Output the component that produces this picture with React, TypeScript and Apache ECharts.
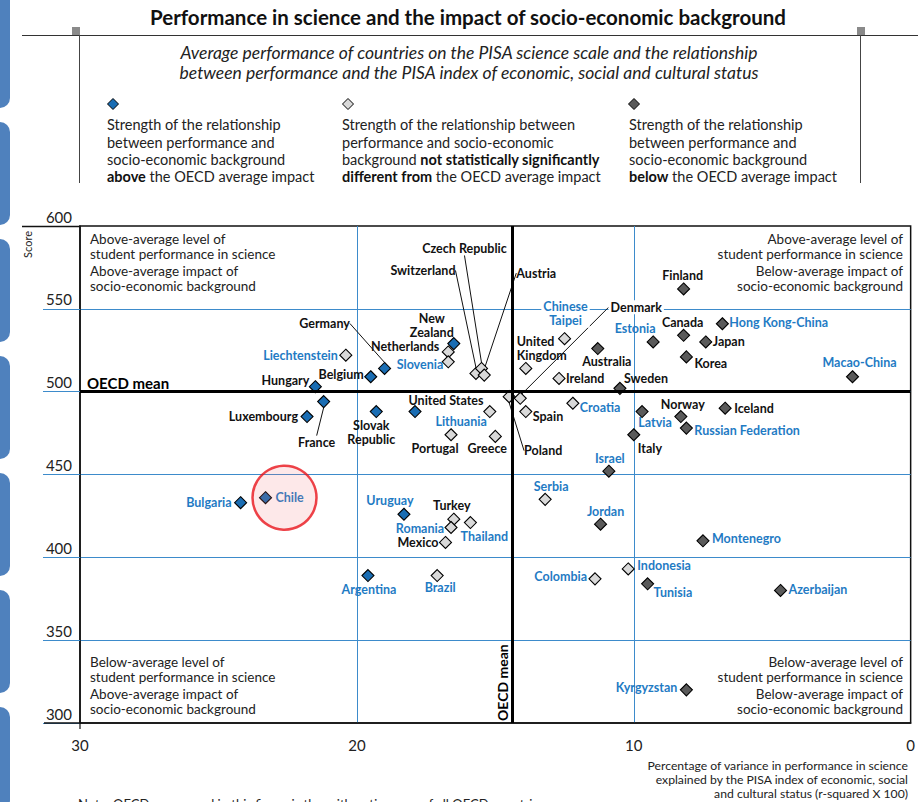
import React, { useEffect, useRef } from "react";
import * as echarts from "echarts";

// ---------- DATA ----------
const countries = [
  "Liechtenstein", "Germany", "Belgium", "Hungary", "Netherlands", "New Zealand", "Slovenia",
  "Switzerland", "Czech Republic", "Austria", "Chinese Taipei", "United Kingdom", "Australia",
  "Ireland", "Sweden", "Estonia", "Canada", "Japan", "Hong Kong-China", "Korea", "Macao-China",
  "Finland", "Denmark", "Poland", "Spain", "Croatia", "United States", "Lithuania", "Portugal",
  "Greece", "Slovak Republic", "Luxembourg", "France", "Bulgaria", "Chile", "Uruguay", "Turkey",
  "Romania", "Thailand", "Mexico", "Argentina", "Brazil", "Serbia", "Jordan", "Colombia",
  "Indonesia", "Tunisia", "Azerbaijan", "Montenegro", "Israel", "Italy", "Latvia", "Norway",
  "Russian Federation", "Iceland", "Kyrgyzstan",
];
// percentage of variance explained (r-squared x 100)
const r2 = [
  20.4, 19.0, 19.5, 21.5, 16.7, 16.5, 16.7,
  15.7, 15.5, 15.4, 12.5, 13.9, 11.3,
  12.7, 10.5, 9.3, 8.2, 7.4, 6.8, 8.1, 2.1,
  8.2, 14.1, 14.5, 13.9, 12.2, 17.9, 15.2, 16.6,
  15.0, 19.3, 21.8, 21.2, 24.2, 23.3, 18.3, 16.5,
  16.6, 15.9, 16.8, 19.6, 17.1, 13.2, 11.2, 11.4,
  10.2, 9.5, 4.7, 7.5, 10.9, 10.0, 9.7, 8.3,
  8.1, 6.7, 8.1,
];
// mean science score
const score = [
  522, 514, 509, 503, 524, 529, 518,
  511, 514, 510, 532, 514, 526,
  508, 502, 530, 534, 530, 541, 521, 509,
  562, 496, 497, 488, 493, 488, 488, 474,
  473, 488, 485, 494, 433, 436, 426, 423,
  418, 421, 409, 389, 389, 435, 420, 387,
  393, 384, 380, 410, 452, 474, 488, 485,
  478, 490, 320,
];
// 0 = above OECD average impact, 1 = not significantly different, 2 = below
const impact = [
  1, 0, 0, 0, 1, 0, 1,
  1, 1, 1, 1, 1, 2,
  1, 2, 2, 2, 2, 2, 2, 2,
  2, 1, 1, 1, 1, 0, 1, 1,
  1, 0, 0, 0, 0, 0, 0, 1,
  1, 1, 1, 0, 1, 1, 2, 1,
  1, 2, 2, 2, 2, 2, 2, 2,
  2, 2, 2,
];
// partner (non-OECD) countries get blue labels
const partners = [
  "Liechtenstein", "Slovenia", "Chinese Taipei", "Estonia", "Hong Kong-China", "Macao-China",
  "Croatia", "Lithuania", "Bulgaria", "Chile", "Uruguay", "Romania", "Thailand", "Argentina",
  "Brazil", "Serbia", "Jordan", "Colombia", "Indonesia", "Tunisia", "Azerbaijan", "Montenegro",
  "Israel", "Latvia", "Russian Federation", "Kyrgyzstan",
];
const OECD_MEAN_SCORE = 500;
const OECD_MEAN_R2 = 14.4;
const highlighted = "Chile";
const xTicks = { min: 0, max: 30, interval: 10 };
const yTicks = { min: 300, max: 600, interval: 50 };

// ---------- STYLE ----------
const FONT = "Lato, 'Open Sans', sans-serif";
const GRID_BLUE = "#3d8bcb";
const LABEL_BLUE = "#1f7bc4";
const CAT_COLORS = ["#1a6db3", "#d9d9d9", "#5a5a5a"];
const CAT_NAMES = [
  "Above the OECD average impact",
  "Not statistically significantly different from the OECD average impact",
  "Below the OECD average impact",
];
const DISPLAY: Record<string, string> = {
  "New Zealand": "New\nZealand",
  "Slovak Republic": "Slovak\nRepublic",
  "Chinese Taipei": "Chinese\nTaipei",
  "United Kingdom": "United\nKingdom",
};
const LEADERS = ["Germany", "Switzerland", "Czech Republic", "Austria", "Denmark", "Poland", "France"];
const WHITE_BG = ["Chinese Taipei", "Denmark"];
// label anchor relative to marker centre: [dx, dy, anchor side]
const LABELS: Record<string, [number, number, string]> = {
  Liechtenstein: [-8, 0, "r"],
  Germany: [-60, -45, "c"],
  Belgium: [-7, -2, "r"],
  Hungary: [-6, -6, "r"],
  Netherlands: [-9, -5, "r"],
  "New Zealand": [-22, -18, "c"],
  Slovenia: [-5, 3, "r"],
  Switzerland: [-53, -103, "c"],
  "Czech Republic": [-17, -120, "c"],
  Austria: [52, -102, "c"],
  "Chinese Taipei": [1, -25, "c"],
  Denmark: [116, -91, "c"],
  "United Kingdom": [-9, -20, "l"],
  Australia: [9, 13, "c"],
  Ireland: [7, 0, "l"],
  Sweden: [4, -10, "l"],
  Estonia: [-18, -13, "c"],
  Canada: [-1, -13, "c"],
  Japan: [7, 0, "l"],
  "Hong Kong-China": [7, -1, "l"],
  Korea: [8, 7, "l"],
  "Macao-China": [7, -14, "c"],
  Finland: [-1, -13, "c"],
  Poland: [34, 54, "c"],
  Spain: [7, 5, "l"],
  Croatia: [7, 4, "l"],
  "United States": [31, -11, "c"],
  Lithuania: [-3, 10, "r"],
  Portugal: [-16, 14, "c"],
  Greece: [-8, 12, "c"],
  "Slovak Republic": [-5, 21, "c"],
  Luxembourg: [-9, 0, "r"],
  France: [-7, 41, "c"],
  Bulgaria: [-9, 0, "r"],
  Chile: [10, 0, "l"],
  Uruguay: [-14, -14, "c"],
  Turkey: [-2, -14, "c"],
  Romania: [-7, 1, "r"],
  Thailand: [14, 14, "c"],
  Mexico: [-7, 0, "r"],
  Argentina: [1, 14, "c"],
  Brazil: [3, 12, "c"],
  Serbia: [6, -13, "c"],
  Jordan: [5, -13, "c"],
  Colombia: [-8, -2, "r"],
  Indonesia: [9, -3, "l"],
  Tunisia: [6, 9, "l"],
  Azerbaijan: [8, -1, "l"],
  Montenegro: [9, -2, "l"],
  Israel: [1, -13, "c"],
  Italy: [4, 14, "l"],
  Latvia: [13, 11, "c"],
  Norway: [2, -12, "c"],
  "Russian Federation": [8, 2, "l"],
  Iceland: [9, 0, "l"],
  Kyrgyzstan: [-9, -2, "r"],
};

const makeLayout = (names: string[]) => (p: any) => {
  const L = LABELS[names[p.dataIndex]];
  if (!L || !p.rect || !p.labelRect) return {};
  const cx = p.rect.x + p.rect.width / 2;
  const cy = p.rect.y + p.rect.height / 2;
  const lr = p.labelRect;
  const tx = cx + L[0];
  const ty = cy + L[1];
  const cur = L[2] === "l" ? lr.x : L[2] === "r" ? lr.x + lr.width : lr.x + lr.width / 2;
  return { dx: tx - cur, dy: ty - (lr.y + lr.height / 2) };
};

function buildOption() {
  const series: any[] = [];
  series.push({
    type: "scatter",
    name: "OECD mean",
    data: [],
    silent: true,
    z: 2,
    markLine: {
      silent: true,
      symbol: ["none", "none"],
      label: { show: false },
      emphasis: { disabled: true },
      lineStyle: { color: "#000", width: 3, type: "solid" },
      data: [{ yAxis: OECD_MEAN_SCORE }, { xAxis: OECD_MEAN_R2 }],
    },
  });
  [0, 1, 2].forEach((cat) => {
    const idx = countries.map((_, i) => i).filter((i) => impact[i] === cat);
    const names = idx.map((i) => countries[i]);
    series.push({
      type: "scatter",
      name: CAT_NAMES[cat],
      z: 4,
      symbol: "diamond",
      symbolSize: 12,
      itemStyle: { color: CAT_COLORS[cat], borderColor: "#000", borderWidth: 1.1, opacity: 1 },
      emphasis: { disabled: true },
      label: {
        show: true,
        position: "inside",
        formatter: (p: any) => DISPLAY[p.name] || p.name,
        fontFamily: FONT,
        fontWeight: "bold",
        fontSize: 12.5,
        lineHeight: 14,
        textBorderWidth: 0,
      },
      labelLine: { show: false, lineStyle: { color: "#111", width: 1 } },
      labelLayout: makeLayout(names),
      data: idx.map((i) => {
        const n = countries[i];
        const item: any = {
          name: n,
          value: [r2[i], score[i]],
          label: {
            color: partners.includes(n) ? LABEL_BLUE : "#111",
          },
        };
        if (n === "United Kingdom") item.label.align = "left";
        if (WHITE_BG.includes(n)) {
          item.label.backgroundColor = "#fff";
          item.label.padding = [0, 2];
        }
        if (LEADERS.includes(n)) item.labelLine = { show: true, lineStyle: { color: "#111", width: 1 } };
        return item;
      }),
    });
  });
  const ci = countries.indexOf(highlighted);
  series.push({
    type: "scatter",
    name: "highlight",
    silent: true,
    z: 6,
    symbol: "circle",
    symbolSize: 64,
    symbolOffset: [19, 0],
    itemStyle: { color: "rgba(245,110,120,0.2)", borderColor: "#e8141c", borderWidth: 2.5 },
    label: { show: false },
    data: [[r2[ci], score[ci]]],
  });

  const txt = (x: number, y: number, text: string, extra: any = {}) => ({
    type: "text",
    x,
    y,
    z: 20,
    style: {
      text,
      fontFamily: FONT,
      fontSize: 13.5,
      fill: "#222",
      align: "left",
      verticalAlign: "top",
      lineHeight: 14.5,
      ...extra,
    },
  });
  const line = (x1: number, y1: number, x2: number, y2: number, stroke = "#000", lw = 1.5) => ({
    type: "line",
    z: 20,
    shape: { x1, y1, x2, y2 },
    style: { stroke, lineWidth: lw },
  });
  const diamond = (cx: number, cy: number, fill: string) => ({
    type: "polygon",
    z: 20,
    shape: { points: [[cx, cy - 5.5], [cx + 5.5, cy], [cx, cy + 5.5], [cx - 5.5, cy]] },
    style: { fill, stroke: "#000", lineWidth: 1 },
  });
  const tabs = [0, 1, 2, 3, 4, 5, 6].map((i) => ({
    type: "rect",
    z: 20,
    shape: { x: -12, y: i === 0 ? -12 : i * 117 + 5, width: 22, height: i === 0 ? 120 : 103, r: 10 },
    style: { fill: "#4f81bd" },
  }));
  const legendStyle = {
    fontSize: 14.5,
    lineHeight: 17.4,
    fill: "#222",
    rich: { b: { fontFamily: FONT, fontSize: 14.5, fontWeight: "bold", lineHeight: 17.4, fill: "#111" } },
  };

  const graphic: any[] = [
    ...tabs,
    txt(468, 17, "Performance in science and the impact of socio-economic background", {
      fontSize: 20.5,
      fontWeight: "bold",
      align: "center",
      verticalAlign: "middle",
      fill: "#111",
      lineHeight: 22,
    }),
    line(22, 35.5, 918, 35.5, "#333", 1.2),
    { type: "rect", z: 20, shape: { x: 72, y: 27, width: 8, height: 8 }, style: { fill: "#8a8a8a" } },
    { type: "rect", z: 20, shape: { x: 857, y: 27, width: 8, height: 8 }, style: { fill: "#8a8a8a" } },
    line(79.5, 35, 79.5, 183, "#444", 1),
    line(860.5, 35, 860.5, 183, "#444", 1),
    txt(469, 52, "Average performance of countries on the PISA science scale and the relationship", {
      fontSize: 17.5,
      lineHeight: 19,
      fontStyle: "italic",
      align: "center",
      verticalAlign: "middle",
    }),
    txt(469, 72, "between performance and the PISA index of economic, social and cultural status", {
      fontSize: 17.5,
      lineHeight: 19,
      fontStyle: "italic",
      align: "center",
      verticalAlign: "middle",
    }),
    diamond(113, 104, CAT_COLORS[0]),
    diamond(348, 104, CAT_COLORS[1]),
    diamond(634, 104, CAT_COLORS[2]),
    txt(107, 116, "Strength of the relationship\nbetween performance and\nsocio-economic background\n{b|above} the OECD average impact", legendStyle),
    txt(342, 116, "Strength of the relationship between\nperformance and socio-economic\nbackground {b|not statistically significantly}\n{b|different from} the OECD average impact", legendStyle),
    txt(629, 116, "Strength of the relationship\nbetween performance and\nsocio-economic background\n{b|below} the OECD average impact", legendStyle),
    // quadrant notes
    txt(90, 232, "Above-average level of\nstudent performance in science"),
    txt(90, 264, "Above-average impact of\nsocio-economic background"),
    txt(903, 232, "Above-average level of\nstudent performance in science", { align: "right" }),
    txt(903, 264, "Below-average impact of\nsocio-economic background", { align: "right" }),
    txt(90, 655, "Below-average level of\nstudent performance in science"),
    txt(90, 687, "Above-average impact of\nsocio-economic background"),
    txt(903, 655, "Below-average level of\nstudent performance in science", { align: "right" }),
    txt(903, 687, "Below-average impact of\nsocio-economic background", { align: "right" }),
    // OECD mean labels
    txt(87, 383, "OECD mean", { fontSize: 15, fontWeight: "bold", fill: "#000", verticalAlign: "middle", lineHeight: 17 }),
    { ...txt(502, 721, "OECD mean", { fontSize: 14, fontWeight: "bold", fill: "#000", verticalAlign: "middle", lineHeight: 16 }), rotation: Math.PI / 2 },
    // axis names
    { ...txt(27, 231, "Score", { fontSize: 11, align: "right", verticalAlign: "middle", lineHeight: 13 }), rotation: Math.PI / 2 },
    txt(908, 758, "Percentage of variance in performance in science\nexplained by the PISA index of economic, social\nand cultural status (r-squared X 100)", {
      fontSize: 12.2,
      lineHeight: 14,
      align: "right",
    }),
    txt(78, 796, "Note: OECD mean used in this figure is the arithmetic mean of all OECD countries.", { fontSize: 13, lineHeight: 15 }),
    // axis extensions
    line(22, 226.5, 80, 226.5, "#111", 1.5),
    line(44, 723, 80, 723, "#111", 1.5),
    line(80, 723, 80, 729, "#111", 1.2),
  ];

  return {
    animation: false,
    backgroundColor: "#fff",
    textStyle: { fontFamily: FONT },
    grid: { left: 80, right: 6, top: 226, bottom: 79, show: true, borderColor: "#111", borderWidth: 1.5 },
    xAxis: {
      type: "value",
      ...xTicks,
      inverse: true,
      axisLine: { show: true, onZero: false, lineStyle: { color: "#111", width: 1.5 } },
      axisTick: { show: false },
      axisLabel: { margin: 14, fontSize: 15, color: "#222", fontFamily: FONT },
      splitLine: { show: true, showMinLine: false, showMaxLine: false, lineStyle: { color: GRID_BLUE, width: 1 } },
    },
    yAxis: {
      type: "value",
      ...yTicks,
      axisLine: { show: true, onZero: false, lineStyle: { color: "#111", width: 1.5 } },
      axisTick: { show: true, length: 37, lineStyle: { color: GRID_BLUE, width: 1 } },
      axisLabel: { margin: 8, verticalAlign: "bottom", fontSize: 15, color: "#222", fontFamily: FONT, padding: [0, 0, 2, 0] },
      splitLine: { show: true, showMinLine: false, showMaxLine: false, lineStyle: { color: GRID_BLUE, width: 1 } },
    },
    series,
    graphic,
  };
}

export default function App() {
  const ref = useRef<HTMLDivElement>(null);
  useEffect(() => {
    document.body.style.margin = "0";
    if (!ref.current) return;
    const chart = echarts.init(ref.current, undefined, { renderer: "svg" });
    chart.setOption(buildOption() as any);
    return () => chart.dispose();
  }, []);
  return <div ref={ref} style={{ width: 918, height: 802 }} />;
}
